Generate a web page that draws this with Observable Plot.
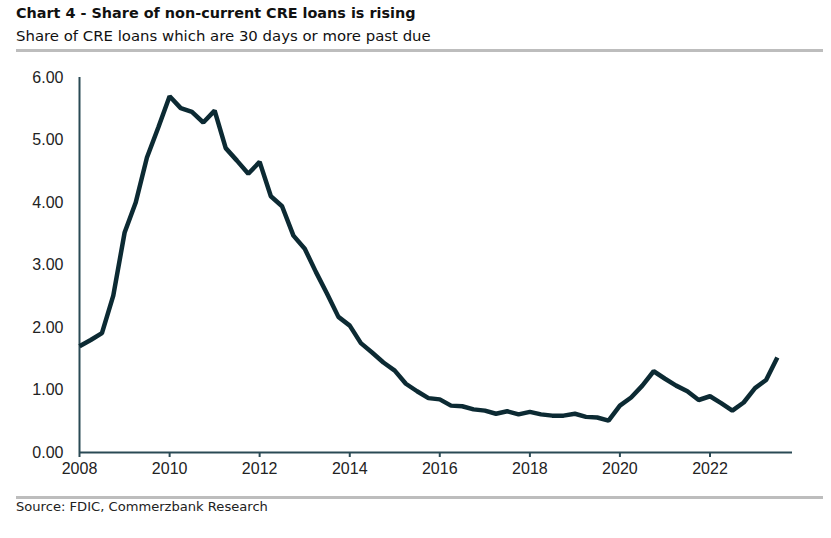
<!DOCTYPE html>
<html>
<head>
<meta charset="utf-8">
<script src="https://cdn.jsdelivr.net/npm/d3@7"></script>
<script src="https://cdn.jsdelivr.net/npm/@observablehq/plot@0.6"></script>
<style>
  html, body { margin: 0; padding: 0; background: #fff; }
  #wrap { position: relative; width: 831px; height: 538px; overflow: hidden; }
  .title { position: absolute; left: 16px; top: 5px; font-family: "DejaVu Sans", sans-serif; font-weight: 700; font-size: 14.4px; color: #111; white-space: nowrap; }
  .subtitle { position: absolute; left: 16px; top: 27px; font-family: "DejaVu Sans", sans-serif; font-size: 14.9px; color: #111; white-space: nowrap; }
  .rule { position: absolute; left: 16px; width: 807px; height: 3px; background: #bdbdbd; }
  .source { position: absolute; left: 16px; top: 499px; font-family: "DejaVu Sans", sans-serif; font-size: 13.1px; color: #222; white-space: nowrap; }
  #chart { position: absolute; left: 0; top: 55px; }
</style>
</head>
<body>
<div id="wrap">
  <div class="title">Chart 4 - Share of non-current CRE loans is rising</div>
  <div class="subtitle">Share of CRE loans which are 30 days or more past due</div>
  <div class="rule" style="top:49px"></div>
  <div id="chart"></div>
  <div class="rule" style="top:496px"></div>
  <div class="source">Source: FDIC, Commerzbank Research</div>
</div>
<script>
// Quarterly observations, 2008 Q1 - 2023 Q3
const quarters = [
  "2008Q1","2008Q2","2008Q3","2008Q4",
  "2009Q1","2009Q2","2009Q3","2009Q4",
  "2010Q1","2010Q2","2010Q3","2010Q4",
  "2011Q1","2011Q2","2011Q3","2011Q4",
  "2012Q1","2012Q2","2012Q3","2012Q4",
  "2013Q1","2013Q2","2013Q3","2013Q4",
  "2014Q1","2014Q2","2014Q3","2014Q4",
  "2015Q1","2015Q2","2015Q3","2015Q4",
  "2016Q1","2016Q2","2016Q3","2016Q4",
  "2017Q1","2017Q2","2017Q3","2017Q4",
  "2018Q1","2018Q2","2018Q3","2018Q4",
  "2019Q1","2019Q2","2019Q3","2019Q4",
  "2020Q1","2020Q2","2020Q3","2020Q4",
  "2021Q1","2021Q2","2021Q3","2021Q4",
  "2022Q1","2022Q2","2022Q3","2022Q4",
  "2023Q1","2023Q2","2023Q3"
];
const shares = [
  1.70, 1.80, 1.91, 2.51,
  3.52, 4.00, 4.72, 5.20,
  5.70, 5.51, 5.45, 5.28,
  5.47, 4.87, 4.67, 4.46,
  4.65, 4.10, 3.94, 3.47,
  3.26, 2.89, 2.54, 2.17,
  2.03, 1.75, 1.60, 1.44,
  1.31, 1.10, 0.98, 0.87,
  0.85, 0.75, 0.74, 0.69,
  0.67, 0.62, 0.66, 0.61,
  0.65, 0.61, 0.59, 0.59,
  0.62, 0.57, 0.56, 0.51,
  0.75, 0.88, 1.07, 1.30,
  1.18, 1.07, 0.98, 0.84,
  0.90, 0.79, 0.67, 0.80,
  1.03, 1.16, 1.52
];
const yTicks = [0, 1, 2, 3, 4, 5, 6];
const xTickYears = [2008, 2010, 2012, 2014, 2016, 2018, 2020, 2022];

const parseQ = s => new Date(Date.UTC(+s.slice(0, 4), (+s.slice(5) - 1) * 3, 1));
const data = quarters.map((q, i) => ({date: parseQ(q), value: shares[i]}));
const xStart = new Date(Date.UTC(2008, 0, 1));
const xEnd = new Date(Date.UTC(2023, 10, 1));
const axisColor = "#2a4a55";
const lineColor = "#0c2a33";

const chart = Plot.plot({
  width: 831,
  height: 437,
  marginLeft: 79,
  marginRight: 39,
  marginTop: 22,
  marginBottom: 40,
  style: {fontFamily: "'Liberation Sans', Arial, sans-serif", fontSize: "16px", color: "#222", background: "#fff"},
  x: {type: "utc", domain: [xStart, xEnd]},
  y: {domain: [0, 6]},
  marks: [
    Plot.axisY({ticks: yTicks, tickFormat: d => d.toFixed(2), tickSize: 0, tickPadding: 16, label: null, fill: "#222"}),
    Plot.axisX({ticks: xTickYears.map(y => new Date(Date.UTC(y, 0, 1))), tickFormat: d3.utcFormat("%Y"), tickSize: 5, tickPadding: 5, stroke: axisColor, strokeWidth: 2, label: null, fill: "#222"}),
    Plot.ruleY([0], {stroke: axisColor, strokeWidth: 2}),
    Plot.ruleX([xStart], {stroke: axisColor, strokeWidth: 2}),
    Plot.line(data, {x: "date", y: "value", stroke: lineColor, strokeWidth: 4.5, strokeLinejoin: "miter", strokeLinecap: "butt"})
  ]
});
document.getElementById("chart").appendChild(chart);
</script>
</body>
</html>
